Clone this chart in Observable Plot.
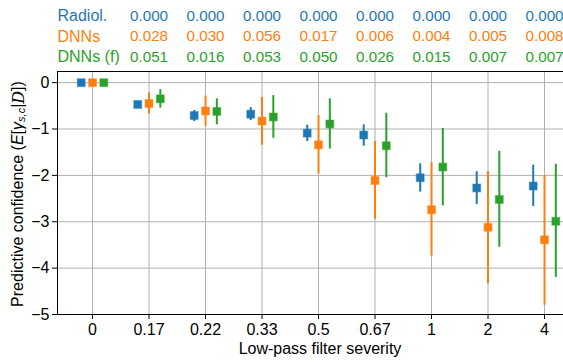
<!DOCTYPE html>
<html>
<head>
<meta charset="utf-8">
<script src="https://cdn.jsdelivr.net/npm/d3@7"></script>
<script src="https://cdn.jsdelivr.net/npm/@observablehq/plot@0.6"></script>
<style>
  html, body { margin: 0; padding: 0; background: #fff; overflow: hidden; }
  #chart svg { display: block; }
</style>
</head>
<body>
<div id="chart"></div>
<script>
const categories = ["0", "0.17", "0.22", "0.33", "0.5", "0.67", "1", "2", "4"];
const seriesNames = ["Radiol.", "DNNs", "DNNs (f)"];
const seriesColors = ["#1f77b4", "#ff7f0e", "#2ca02c"];

const radiolMean = [0, -0.47, -0.71, -0.68, -1.09, -1.13, -2.05, -2.27, -2.23];
const radiolLo   = [0, -0.53, -0.84, -0.82, -1.27, -1.37, -2.36, -2.63, -2.67];
const radiolHi   = [0, -0.41, -0.60, -0.54, -0.92, -0.91, -1.75, -1.92, -1.78];

const dnnMean = [0, -0.45, -0.61, -0.83, -1.34, -2.11, -2.74, -3.12, -3.39];
const dnnLo   = [0, -0.68, -0.94, -1.35, -1.97, -2.95, -3.74, -4.34, -4.80];
const dnnHi   = [0, -0.22, -0.29, -0.32, -0.71, -1.27, -1.72, -1.92, -2.00];

const dnnfMean = [0, -0.35, -0.62, -0.74, -0.89, -1.36, -1.82, -2.52, -2.99];
const dnnfLo   = [0, -0.55, -0.91, -1.20, -1.43, -2.05, -2.66, -3.55, -4.20];
const dnnfHi   = [0, -0.15, -0.35, -0.28, -0.35, -0.66, -0.99, -1.48, -1.76];

const radiolP = ["0.000", "0.000", "0.000", "0.000", "0.000", "0.000", "0.000", "0.000"];
const dnnP    = ["0.028", "0.030", "0.056", "0.017", "0.006", "0.004", "0.005", "0.008"];
const dnnfP   = ["0.051", "0.016", "0.053", "0.050", "0.026", "0.015", "0.007", "0.007"];

const yTicks = [0, -1, -2, -3, -4, -5];

// build tables
const offsets = [-0.2, 0, 0.2];
const means = [radiolMean, dnnMean, dnnfMean];
const los = [radiolLo, dnnLo, dnnfLo];
const his = [radiolHi, dnnHi, dnnfHi];
const points = [];
seriesNames.forEach((s, k) => {
  categories.forEach((c, i) => {
    points.push({series: s, x: i + offsets[k], m: means[k][i], lo: los[k][i], hi: his[k][i], color: seriesColors[k]});
  });
});
const pvals = [radiolP, dnnP, dnnfP];
const rowDy = [-55.5, -35, -14.5];
const table = [];
pvals.forEach((arr, k) => arr.forEach((v, j) => table.push({i: j + 1, v, k, color: seriesColors[k]})));

const fmtY = d => (d < 0 ? "\u2212" : "") + Math.abs(d);
const FS = 16;
const TFS = 15.2;

const marks = [
  Plot.gridX(d3.range(categories.length), {stroke: "#b0b0b0", strokeOpacity: 1, strokeWidth: 1}),
  Plot.gridY(yTicks, {stroke: "#b0b0b0", strokeOpacity: 1, strokeWidth: 1}),
  Plot.frame({anchor: "left", stroke: "black", strokeWidth: 1}),
  Plot.frame({anchor: "top", stroke: "black", strokeWidth: 1}),
  Plot.frame({anchor: "bottom", stroke: "black", strokeWidth: 1}),
  Plot.axisY(yTicks, {tickFormat: fmtY, tickSize: 5, tickPadding: 3, label: null, fontSize: FS}),
  Plot.axisX(d3.range(categories.length), {tickFormat: i => categories[i], tickSize: 5, tickPadding: 4, label: null, fontSize: FS}),
  Plot.ruleX(points.filter(d => d.hi !== d.lo), {x: "x", y1: "lo", y2: "hi", stroke: "color", strokeWidth: 2}),
  Plot.dot(points, {x: "x", y: "m", symbol: "square", r: 4.4, fill: "color", stroke: "color", strokeOpacity: 0.45, strokeWidth: 1.2})
];
seriesNames.forEach((s, k) => {
  marks.push(Plot.text([s], {frameAnchor: "top-left", lineAnchor: "middle", dy: rowDy[k], textAnchor: "start", fill: seriesColors[k], fontSize: FS}));
  marks.push(Plot.text(table.filter(d => d.k === k), {x: "i", text: "v", frameAnchor: "top", lineAnchor: "middle", dy: rowDy[k], fill: "color", fontSize: TFS}));
});

const chart = Plot.plot({
  width: 563,
  height: 362,
  marginLeft: 57,
  marginRight: 0,
  marginTop: 71,
  marginBottom: 48,
  style: {fontFamily: "'Liberation Sans', Arial, sans-serif", fontSize: FS + "px", color: "black", background: "white"},
  x: {type: "linear", domain: [-0.62, 8.336], axis: null},
  y: {domain: [-5, 0.24], axis: null},
  marks
});

const svg = d3.select(chart);
svg.append("text")
  .attr("x", 320).attr("y", 350)
  .attr("text-anchor", "middle").attr("dominant-baseline", "middle")
  .attr("font-size", FS).attr("fill", "black")
  .text("Low-pass filter severity");

const yl = svg.append("text")
  .attr("transform", "translate(19,194) rotate(-90)")
  .attr("text-anchor", "middle").attr("dominant-baseline", "middle")
  .attr("font-size", FS).attr("fill", "black");
yl.append("tspan").text("Predictive confidence (");
yl.append("tspan").attr("font-style", "italic").text("E");
yl.append("tspan").text("[");
yl.append("tspan").attr("font-style", "italic").text("γ");
yl.append("tspan").attr("font-style", "italic").attr("font-size", 11).attr("dy", 3).text("s,c");
yl.append("tspan").attr("dy", -3).text("|");
yl.append("tspan").attr("font-style", "italic").attr("font-family", "'DejaVu Serif', serif").text("D");
yl.append("tspan").text("])");

document.getElementById("chart").appendChild(chart);
</script>
</body>
</html>
